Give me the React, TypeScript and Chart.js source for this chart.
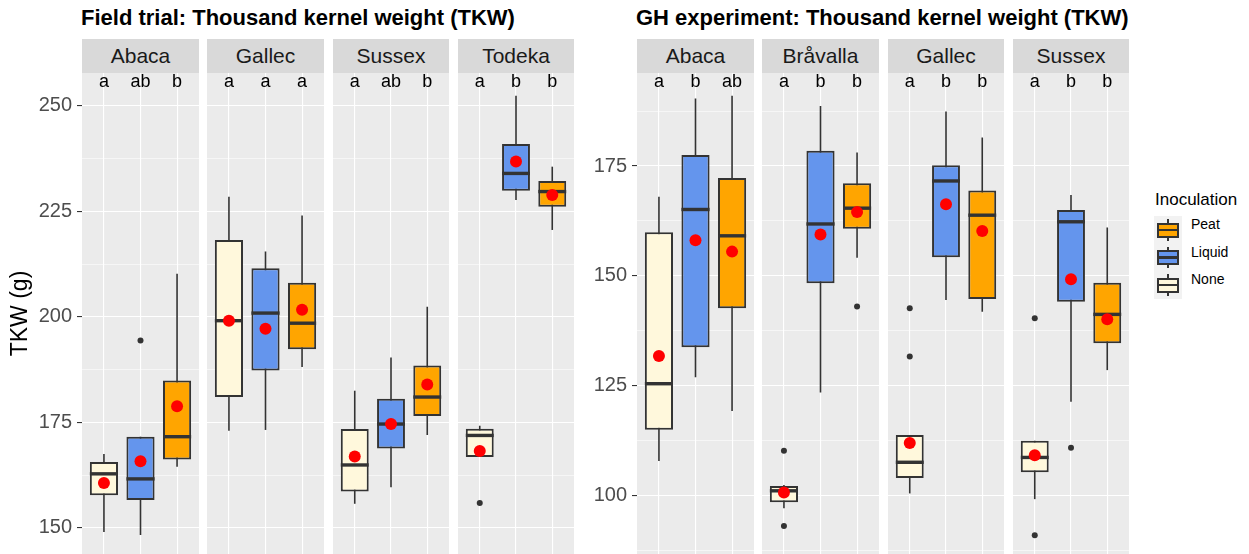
import React, { useEffect, useRef } from 'react';
import { Chart, registerables } from 'chart.js';

Chart.register(...registerables);

const FONT = '"Liberation Sans", Arial, Helvetica, sans-serif';

// ---------- data ----------
const inoculation = ['None', 'Liquid', 'Peat'];
const boxColors = ['#FFF8DC', '#6495ED', '#FFA500'];
const legendOrder = ['Peat', 'Liquid', 'None'];

const fieldTitle = 'Field trial: Thousand kernel weight (TKW)';
const ghTitle = 'GH experiment: Thousand kernel weight (TKW)';
const yAxisTitle = 'TKW (g)';

const fieldCultivars = ['Abaca', 'Gallec', 'Sussex', 'Todeka'];
const ghCultivars = ['Abaca', 'Bråvalla', 'Gallec', 'Sussex'];

const fieldTicks = [150, 175, 200, 225, 250];
const ghTicks = [100, 125, 150, 175];
const fieldRange = [143.8, 257.8];
const ghRange = [86.6, 196.2];
const fieldLetterY = 254.4;
const ghLetterY = 192.9;

// [lower whisker, Q1, median, Q3, upper whisker] for None, Liquid, Peat
const fieldAbacaBox = [[149.0, 157.7, 162.8, 165.6, 167.5], [148.3, 156.6, 161.6, 171.6, 171.6], [164.5, 166.2, 171.6, 184.9, 210.2]];
const fieldAbacaMean = [160.6, 165.8, 178.8];
const fieldAbacaOut = [[], [194.4], []];
const fieldAbacaLetters = ['a', 'ab', 'b'];

const fieldGallecBox = [[173.0, 181.0, 199.1, 218.2, 228.5], [173.2, 187.3, 200.9, 211.5, 215.5], [188.1, 192.3, 198.5, 208.1, 224.0]];
const fieldGallecMean = [199.1, 197.2, 201.7];
const fieldGallecOut = [[], [], []];
const fieldGallecLetters = ['a', 'a', 'a'];

const fieldSussexBox = [[155.7, 158.6, 164.9, 173.4, 182.5], [159.6, 168.8, 174.6, 180.6, 190.4], [172.0, 176.5, 181.0, 188.5, 202.4]];
const fieldSussexMean = [166.9, 174.6, 184.0];
const fieldSussexOut = [[], [], []];
const fieldSussexLetters = ['a', 'ab', 'b'];

const fieldTodekaBox = [[166.8, 166.8, 171.9, 173.5, 174.2], [227.7, 229.9, 234.0, 241.0, 252.4], [220.6, 226.1, 229.7, 232.2, 235.6]];
const fieldTodekaMean = [168.2, 236.8, 228.9];
const fieldTodekaOut = [[155.9], [], []];
const fieldTodekaLetters = ['a', 'b', 'b'];

const ghAbacaBox = [[107.8, 114.9, 125.4, 159.9, 168.0], [126.9, 133.7, 165.1, 177.5, 190.4], [119.2, 142.6, 159.1, 172.3, 191.0]];
const ghAbacaMean = [131.7, 158.1, 155.5];
const ghAbacaOut = [[], [], []];
const ghAbacaLetters = ['a', 'b', 'ab'];

const ghBravallaBox = [[97.0, 98.4, 101.0, 102.1, 102.3], [123.4, 148.3, 161.8, 178.5, 188.7], [154.1, 160.7, 165.4, 171.1, 178.1]];
const ghBravallaMean = [100.6, 159.4, 164.5];
const ghBravallaOut = [[110.1, 93.0], [], [143.0]];
const ghBravallaLetters = ['a', 'b', 'b'];

const ghGallecBox = [[100.4, 103.9, 107.5, 113.7, 113.7], [144.5, 154.2, 171.6, 175.2, 187.4], [141.8, 144.7, 163.8, 169.4, 181.5]];
const ghGallecMean = [111.9, 166.3, 160.2];
const ghGallecOut = [[142.6, 131.6], [], []];
const ghGallecLetters = ['a', 'b', 'b'];

const ghSussexBox = [[99.1, 105.2, 108.6, 112.4, 112.4], [121.3, 144.1, 162.3, 165.0, 168.4], [128.5, 134.6, 141.2, 148.4, 161.0]];
const ghSussexMean = [109.1, 149.2, 140.1];
const ghSussexOut = [[140.3, 90.9], [110.8], []];
const ghSussexLetters = ['a', 'b', 'b'];

const fieldPanels = [
  { box: fieldAbacaBox, mean: fieldAbacaMean, out: fieldAbacaOut, letters: fieldAbacaLetters },
  { box: fieldGallecBox, mean: fieldGallecMean, out: fieldGallecOut, letters: fieldGallecLetters },
  { box: fieldSussexBox, mean: fieldSussexMean, out: fieldSussexOut, letters: fieldSussexLetters },
  { box: fieldTodekaBox, mean: fieldTodekaMean, out: fieldTodekaOut, letters: fieldTodekaLetters },
];
const ghPanels = [
  { box: ghAbacaBox, mean: ghAbacaMean, out: ghAbacaOut, letters: ghAbacaLetters },
  { box: ghBravallaBox, mean: ghBravallaMean, out: ghBravallaOut, letters: ghBravallaLetters },
  { box: ghGallecBox, mean: ghGallecMean, out: ghGallecOut, letters: ghGallecLetters },
  { box: ghSussexBox, mean: ghSussexMean, out: ghSussexOut, letters: ghSussexLetters },
];

// ---------- layout ----------
const PANEL_TOP = 73;
const PANEL_BOTTOM = 554;
const STRIP_TOP = 39;
const PANEL_W = 116.5;
const PANEL_STEP = 125.3;
const FIELD_X0 = 82;
const GH_X0 = 637;
const GH_AXIS_LEFT = 587;

type PanelProps = {
  box: number[][];
  mean: number[];
  out: number[][];
  letters: string[];
  range: number[];
  majors: number[];
  letterY: number;
  canvasLeft: number;
  panelLeft: number;
  panelRight: number;
  axisTitle?: string;
};

function Panel(p: PanelProps) {
  const ref = useRef<HTMLCanvasElement>(null);
  const width = p.panelRight - p.canvasLeft;
  const height = PANEL_BOTTOM - PANEL_TOP;
  const axisWidth = p.panelLeft - p.canvasLeft;

  useEffect(() => {
    if (!ref.current) return;
    const { box, mean, out, letters, range, majors, letterY, axisTitle } = p;
    const xs = inoculation.map((_, i) => i + 1);
    const step = majors[1] - majors[0];
    const tickVals: number[] = [];
    for (let k = -1; k < majors.length; k++) {
      const m = majors[Math.max(k, 0)] + (k < 0 ? -step : 0);
      for (const v of [m, m + step / 2]) {
        if (v >= range[0] && v <= range[1] && !tickVals.some((t) => Math.abs(t - v) < 1e-6)) tickVals.push(v);
      }
    }
    const isMajor = (v: number) => majors.some((m) => Math.abs(m - v) < 1e-6);
    const showAxis = axisWidth > 0;

    const boxPlugin = {
      id: 'boxparts',
      beforeDraw(chart: any) {
        const { ctx, chartArea: a } = chart;
        ctx.save();
        ctx.fillStyle = '#EBEBEB';
        ctx.fillRect(a.left, a.top, a.right - a.left, a.bottom - a.top);
        ctx.restore();
      },
      beforeDatasetsDraw(chart: any) {
        const { ctx, chartArea: a, scales } = chart;
        ctx.save();
        ctx.beginPath();
        ctx.rect(a.left, a.top, a.right - a.left, a.bottom - a.top);
        ctx.clip();
        ctx.strokeStyle = '#333333';
        ctx.lineWidth = 1.6;
        box.forEach((b, i) => {
          const x = scales.x.getPixelForValue(xs[i]);
          ctx.beginPath();
          ctx.moveTo(x, scales.y.getPixelForValue(b[0]));
          ctx.lineTo(x, scales.y.getPixelForValue(b[4]));
          ctx.stroke();
        });
        ctx.restore();
      },
      afterDatasetDraw(chart: any, args: any) {
        if (args.index !== 0) return;
        const { ctx, scales } = chart;
        const meta = chart.getDatasetMeta(0);
        ctx.save();
        ctx.strokeStyle = '#333333';
        ctx.lineWidth = 3.4;
        box.forEach((b, i) => {
          const el: any = meta.data[i];
          const y = scales.y.getPixelForValue(b[2]);
          ctx.beginPath();
          ctx.moveTo(el.x - el.width / 2, y);
          ctx.lineTo(el.x + el.width / 2, y);
          ctx.stroke();
        });
        ctx.restore();
      },
      afterDatasetsDraw(chart: any) {
        const { ctx, scales } = chart;
        ctx.save();
        ctx.fillStyle = '#000000';
        ctx.font = `18px ${FONT}`;
        ctx.textAlign = 'center';
        ctx.textBaseline = 'alphabetic';
        letters.forEach((t, i) => {
          ctx.fillText(t, scales.x.getPixelForValue(xs[i]), scales.y.getPixelForValue(letterY));
        });
        ctx.restore();
      },
    };

    const chart = new Chart(ref.current, {
      type: 'bar',
      data: {
        datasets: [
          {
            type: 'bar',
            data: box.map((b, i) => ({ x: xs[i], y: [b[1], b[3]] })) as any,
            backgroundColor: boxColors,
            borderColor: '#333333',
            borderWidth: 2,
            borderSkipped: false,
            barPercentage: 0.77,
            categoryPercentage: 1,
            order: 3,
          } as any,
          {
            type: 'scatter',
            data: out.flatMap((arr, i) => arr.map((v) => ({ x: xs[i], y: v }))),
            pointRadius: 3,
            pointBackgroundColor: '#333333',
            pointBorderWidth: 0,
            order: 2,
          } as any,
          {
            type: 'scatter',
            data: mean.map((v, i) => ({ x: xs[i], y: v })),
            pointRadius: 6,
            pointBackgroundColor: '#FF0000',
            pointBorderWidth: 0,
            order: 1,
          } as any,
        ],
      },
      options: {
        responsive: false,
        maintainAspectRatio: false,
        animation: false,
        events: [],
        layout: { padding: 0, autoPadding: false },
        plugins: {
          legend: { display: false },
          tooltip: { enabled: false },
          title: { display: false },
        },
        scales: {
          x: {
            type: 'linear',
            min: 0.4,
            max: 3.6,
            offset: false,
            bounds: 'data',
            afterBuildTicks: (s: any) => {
              s.ticks = xs.map((v) => ({ value: v }));
            },
            afterFit: (s: any) => {
              s.height = 0;
              s.paddingLeft = 0;
              s.paddingRight = 0;
              s.paddingTop = 0;
              s.paddingBottom = 0;
            },
            ticks: { display: false },
            border: { display: false },
            grid: { color: '#FFFFFF', lineWidth: 1.1, drawTicks: false, offset: false },
          },
          y: {
            type: 'linear',
            min: range[0],
            max: range[1],
            bounds: 'data',
            beginAtZero: false,
            afterBuildTicks: (s: any) => {
              s.ticks = tickVals.map((v) => ({ value: v }));
            },
            afterFit: (s: any) => {
              s.width = axisWidth;
              s.paddingTop = 0;
              s.paddingBottom = 0;
              s.paddingLeft = 0;
              s.paddingRight = 0;
            },
            ticks: {
              display: showAxis,
              autoSkip: false,
              color: '#4D4D4D',
              font: { family: FONT, size: 20 },
              padding: 5,
              callback: (v: any) => (isMajor(Number(v)) ? String(v) : ''),
            },
            border: { display: false },
            grid: {
              color: '#FFFFFF',
              lineWidth: (c: any) => (c.tick && isMajor(c.tick.value) ? 1.1 : 0.55),
              drawTicks: showAxis,
              tickLength: 5,
              tickWidth: 1.1,
              tickColor: (c: any) => (c.tick && isMajor(c.tick.value) ? '#333333' : 'rgba(0,0,0,0)'),
            },
            title: axisTitle
              ? {
                  display: true,
                  text: axisTitle,
                  color: '#000000',
                  font: { family: FONT, size: 23 },
                  padding: { top: 7, bottom: 0 },
                }
              : { display: false },
          },
        },
      } as any,
      plugins: [boxPlugin],
    });
    return () => chart.destroy();
  }, []);

  return (
    <canvas
      ref={ref}
      width={width}
      height={height}
      style={{ position: 'absolute', left: p.canvasLeft, top: PANEL_TOP, width, height }}
    />
  );
}

function Strip({ label, left, right }: { label: string; left: number; right: number }) {
  return (
    <div
      style={{
        position: 'absolute',
        left,
        top: STRIP_TOP,
        width: right - left,
        height: PANEL_TOP - STRIP_TOP,
        background: '#D9D9D9',
        color: '#1A1A1A',
        font: `21px ${FONT}`,
        lineHeight: `${PANEL_TOP - STRIP_TOP}px`,
        textAlign: 'center',
        whiteSpace: 'nowrap',
      }}
    >
      {label}
    </div>
  );
}

function Facets({ cultivars, panels, x0, axisLeft, range, majors, letterY, axisTitle }: any) {
  return (
    <>
      {cultivars.map((c: string, k: number) => {
        const left = Math.round(x0 + k * PANEL_STEP);
        const right = Math.round(x0 + k * PANEL_STEP + PANEL_W);
        const pd = panels[k];
        return (
          <React.Fragment key={c + k}>
            <Strip label={c} left={left} right={right} />
            <Panel
              box={pd.box}
              mean={pd.mean}
              out={pd.out}
              letters={pd.letters}
              range={range}
              majors={majors}
              letterY={letterY}
              canvasLeft={k === 0 ? axisLeft : left}
              panelLeft={left}
              panelRight={right}
              axisTitle={k === 0 ? axisTitle : undefined}
            />
          </React.Fragment>
        );
      })}
    </>
  );
}

function Legend() {
  const keyTop = 216;
  const keyH = 27.5;
  return (
    <>
      <div
        style={{
          position: 'absolute',
          left: 1155,
          top: 190,
          font: `17px ${FONT}`,
          lineHeight: '19px',
          color: '#000000',
          whiteSpace: 'nowrap',
        }}
      >
        Inoculation
      </div>
      {legendOrder.map((name, k) => {
        const color = boxColors[inoculation.indexOf(name)];
        const top = keyTop + k * keyH;
        return (
          <React.Fragment key={name}>
            <div style={{ position: 'absolute', left: 1154, top, width: 28, height: keyH, background: '#F2F2F2' }}>
              <div style={{ position: 'absolute', left: 13.2, top: 3, width: 1.6, height: keyH - 6, background: '#333333' }} />
              <div
                style={{
                  position: 'absolute',
                  left: 3,
                  top: 6.5,
                  width: 22,
                  height: 15,
                  boxSizing: 'border-box',
                  border: '2px solid #333333',
                  background: color,
                }}
              />
              <div style={{ position: 'absolute', left: 3, top: 12.8, width: 22, height: 2.4, background: '#333333' }} />
            </div>
            <div
              style={{
                position: 'absolute',
                left: 1191,
                top,
                height: keyH,
                lineHeight: `${keyH}px`,
                font: `14px ${FONT}`,
                color: '#000000',
                whiteSpace: 'nowrap',
              }}
            >
              {name}
            </div>
          </React.Fragment>
        );
      })}
    </>
  );
}

export default function App() {
  const titleStyle: React.CSSProperties = {
    position: 'absolute',
    top: 7,
    font: `bold 22px ${FONT}`,
    lineHeight: '22px',
    color: '#000000',
    whiteSpace: 'nowrap',
  };
  return (
    <div style={{ position: 'absolute', left: 0, top: 0, width: 1249, height: 554, background: '#FFFFFF', overflow: 'hidden' }}>
      <div style={{ ...titleStyle, left: 81 }}>{fieldTitle}</div>
      <div style={{ ...titleStyle, left: 636 }}>{ghTitle}</div>
      <Facets
        cultivars={fieldCultivars}
        panels={fieldPanels}
        x0={FIELD_X0}
        axisLeft={0}
        range={fieldRange}
        majors={fieldTicks}
        letterY={fieldLetterY}
        axisTitle={yAxisTitle}
      />
      <Facets
        cultivars={ghCultivars}
        panels={ghPanels}
        x0={GH_X0}
        axisLeft={GH_AXIS_LEFT}
        range={ghRange}
        majors={ghTicks}
        letterY={ghLetterY}
      />
      <Legend />
    </div>
  );
}
